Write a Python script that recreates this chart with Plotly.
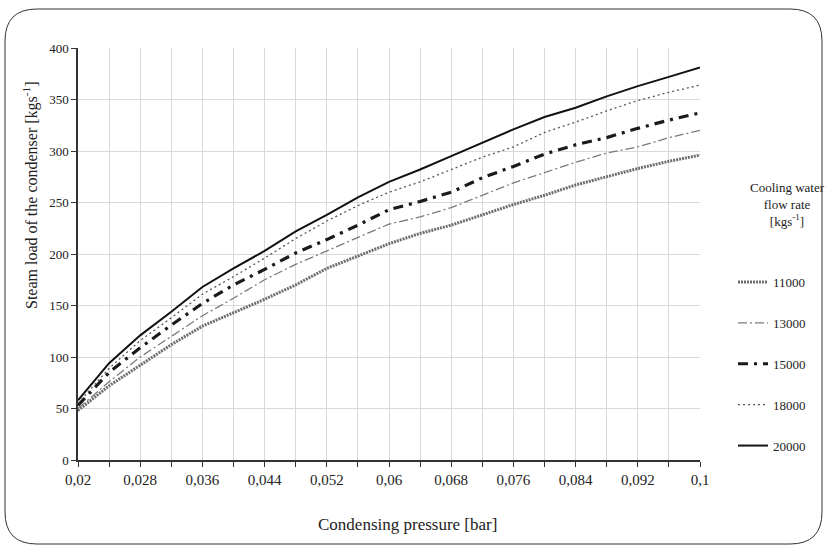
import plotly.graph_objects as go

pressure = [0.020, 0.024, 0.028, 0.032, 0.036, 0.040, 0.044, 0.048, 0.052, 0.056, 0.060,
            0.064, 0.068, 0.072, 0.076, 0.080, 0.084, 0.088, 0.092, 0.096, 0.100]

load_11000 = [48, 72, 92, 112, 130, 143, 156, 170, 186, 198, 210,
              220, 228, 238, 248, 257, 267, 275, 283, 290, 296]
load_13000 = [50, 76, 100, 120, 140, 157, 175, 190, 203, 216, 229,
              236, 245, 257, 269, 279, 289, 298, 304, 313, 320]
load_15000 = [53, 85, 109, 131, 152, 170, 185, 201, 214, 228, 243,
              251, 260, 274, 285, 297, 306, 313, 322, 330, 337]
load_18000 = [55, 89, 116, 138, 161, 178, 196, 215, 232, 247, 260,
              270, 282, 294, 304, 318, 328, 339, 349, 357, 364]
load_20000 = [58, 94, 121, 144, 168, 186, 203, 222, 238, 255, 270,
              282, 295, 308, 321, 333, 342, 353, 363, 372, 381]

series_names = ["11000", "13000", "15000", "18000", "20000"]
tick_vals = [0.02, 0.028, 0.036, 0.044, 0.052, 0.06, 0.068, 0.076, 0.084, 0.092, 0.1]
tick_text = ["0,02", "0,028", "0,036", "0,044", "0,052", "0,06",
             "0,068", "0,076", "0,084", "0,092", "0,1"]

W, H = 827, 547
ML, MR, MT, MB = 78, 127, 48, 87
PW, PH = W - ML - MR, H - MT - MB


def px(x):
    return (x - ML) / PW


def py(y):
    return (H - MB - y) / PH


FONT = "Liberation Serif, Times New Roman, serif"

styles = [
    dict(color="#6e6e6e", width=3, dash="2px,1px"),
    dict(color="#7a7a7a", width=1.3, dash="9px,3px,2px,3px"),
    dict(color="#1a1a1a", width=3.2, dash="10px,6px,3px,6px"),
    dict(color="#555555", width=1.3, dash="2px,3px"),
    dict(color="#111111", width=2),
]
all_series = [load_11000, load_13000, load_15000, load_18000, load_20000]

fig = go.Figure()
for name, vals, st in zip(series_names, all_series, styles):
    fig.add_trace(go.Scatter(
        x=pressure, y=vals, mode="lines", name=name, legendgroup=name,
        line=dict(color=st["color"], width=st["width"], dash=st.get("dash", "solid")),
    ))

# rounded outer frame
l, t, r, b, rad = 5, 9, 822, 544, 32
path = (f"M {px(l)},{py(t + rad)} "
        f"Q {px(l)},{py(t)} {px(l + rad)},{py(t)} "
        f"L {px(r - rad)},{py(t)} "
        f"Q {px(r)},{py(t)} {px(r)},{py(t + rad)} "
        f"L {px(r)},{py(b - rad)} "
        f"Q {px(r)},{py(b)} {px(r - rad)},{py(b)} "
        f"L {px(l + rad)},{py(b)} "
        f"Q {px(l)},{py(b)} {px(l)},{py(b - rad)} Z")
fig.add_shape(type="path", path=path, xref="paper", yref="paper",
              line=dict(color="#333333", width=1), layer="below")

fig.add_annotation(
    text="Cooling water<br>flow rate<br>[kgs<sup>-1</sup>]",
    xref="paper", yref="paper", x=px(787), y=py(204), xanchor="center", yanchor="middle",
    showarrow=False, font=dict(family=FONT, size=13, color="#222"), align="center",
)
fig.add_annotation(
    text="Steam load of the condenser [kgs<sup>-1</sup>]",
    xref="paper", yref="paper", x=px(31), y=py(196), xanchor="center", yanchor="middle",
    textangle=-90, showarrow=False, font=dict(family=FONT, size=16, color="#222"),
)
fig.add_annotation(
    text="Condensing pressure [bar]",
    xref="paper", yref="paper", x=px(407), y=py(524), xanchor="center", yanchor="middle",
    showarrow=False, font=dict(family=FONT, size=17, color="#222"),
)

fig.update_layout(
    width=W, height=H,
    margin=dict(l=ML, r=MR, t=MT, b=MB),
    paper_bgcolor="white", plot_bgcolor="white",
    font=dict(family=FONT, color="#222"),
    showlegend=True,
    legend=dict(
        x=px(733), y=py(267), xanchor="left", yanchor="top",
        font=dict(family=FONT, size=13, color="#222"),
        tracegroupgap=21, bgcolor="rgba(0,0,0,0)", itemwidth=30,
    ),
    xaxis=dict(
        range=[0.02, 0.1], tickmode="array", tickvals=tick_vals, ticktext=tick_text,
        showgrid=True, gridcolor="#d9d9d9", gridwidth=1,
        showline=True, linecolor="#333", linewidth=1.5,
        ticks="outside", ticklen=5, tickcolor="#333",
        tickfont=dict(family=FONT, size=15, color="#222"),
        minor=dict(tick0=0.02, dtick=0.004, showgrid=True, gridcolor="#d9d9d9",
                   ticks="outside", ticklen=5, tickcolor="#333"),
        zeroline=False,
    ),
    yaxis=dict(
        range=[0, 400], tickmode="linear", tick0=0, dtick=50,
        showgrid=True, gridcolor="#d9d9d9", gridwidth=1,
        showline=True, linecolor="#333", linewidth=1.5,
        ticks="outside", ticklen=5, tickcolor="#333",
        tickfont=dict(family=FONT, size=13, color="#222"),
        zeroline=False,
    ),
)

fig.write_html("out.html", config={"displayModeBar": False},
               post_script="document.body.style.margin='0';")
